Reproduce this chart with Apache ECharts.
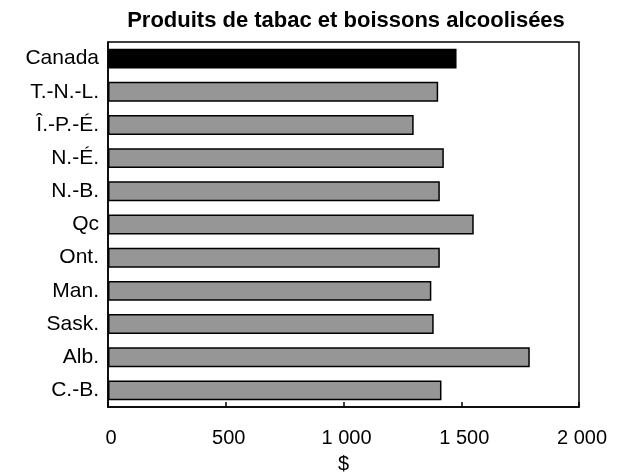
<!DOCTYPE html>
<html>
<head>
<meta charset="utf-8">
<script src="https://cdn.jsdelivr.net/npm/echarts@6/dist/echarts.min.js"></script>
<style>
html,body{margin:0;padding:0;background:#fff;}
#chart{width:621px;height:473px;}
</style>
</head>
<body>
<div id="chart"></div>
<script>
const categories = ['Canada','T.-N.-L.','Î.-P.-É.','N.-É.','N.-B.','Qc','Ont.','Man.','Sask.','Alb.','C.-B.'];
const values = [1480, 1402, 1298, 1426, 1409, 1553, 1409, 1373, 1383, 1791, 1416];
const xTicks = [0, 500, 1000, 1500, 2000];
const titleText = 'Produits de tabac et boissons alcoolisées';
const xName = '$';

const FONT = '"Liberation Sans", Arial, sans-serif';
const chart = echarts.init(document.getElementById('chart'), null, {renderer:'canvas'});
chart.setOption({
  animation: false,
  backgroundColor: '#fff',
  title: {
    text: titleText,
    left: 341, textAlign: 'center',
    top: 5,
    textStyle: {fontFamily: FONT, fontWeight: 'bold', fontSize: 22, color: '#000'}
  },
  grid: {left: 108, right: 42, top: 42, bottom: 66, containLabel: false, outerBoundsMode: 'none',
    show: true, borderColor: '#000', borderWidth: 1.5, backgroundColor: '#fff'},
  xAxis: {
    type: 'value', min: xTicks[0], max: xTicks[xTicks.length-1], interval: 500,
    name: xName, nameLocation: 'middle', nameGap: 47,
    nameTextStyle: {fontFamily: FONT, fontSize: 20, color: '#000'},
    axisLine: {show: true, lineStyle: {color: '#000', width: 1.5}},
    axisTick: {show: true, inside: true, length: 5, lineStyle: {color: '#000', width: 1.5}},
    splitLine: {show: false},
    axisLabel: {fontFamily: FONT, fontSize: 20, color: '#000', margin: 21, padding: [0, 0, 0, 6],
      formatter: v => String(v).replace(/\B(?=(\d{3})+(?!\d))/g, ' ')}
  },
  yAxis: {
    type: 'category', data: categories, inverse: true,
    axisLine: {show: true, lineStyle: {color: '#000', width: 1.5}},
    axisTick: {show: false},
    axisLabel: {fontFamily: FONT, fontSize: 21, color: '#000', margin: 9}
  },
  series: [{
    type: 'bar',
    data: values.map((v, i) => ({value: v, itemStyle: {color: i === 0 ? '#000' : '#969696'}})),
    barWidth: '60%',
    itemStyle: {borderColor: '#000', borderWidth: 1.5}
  }]
});
</script>
</body>
</html>
